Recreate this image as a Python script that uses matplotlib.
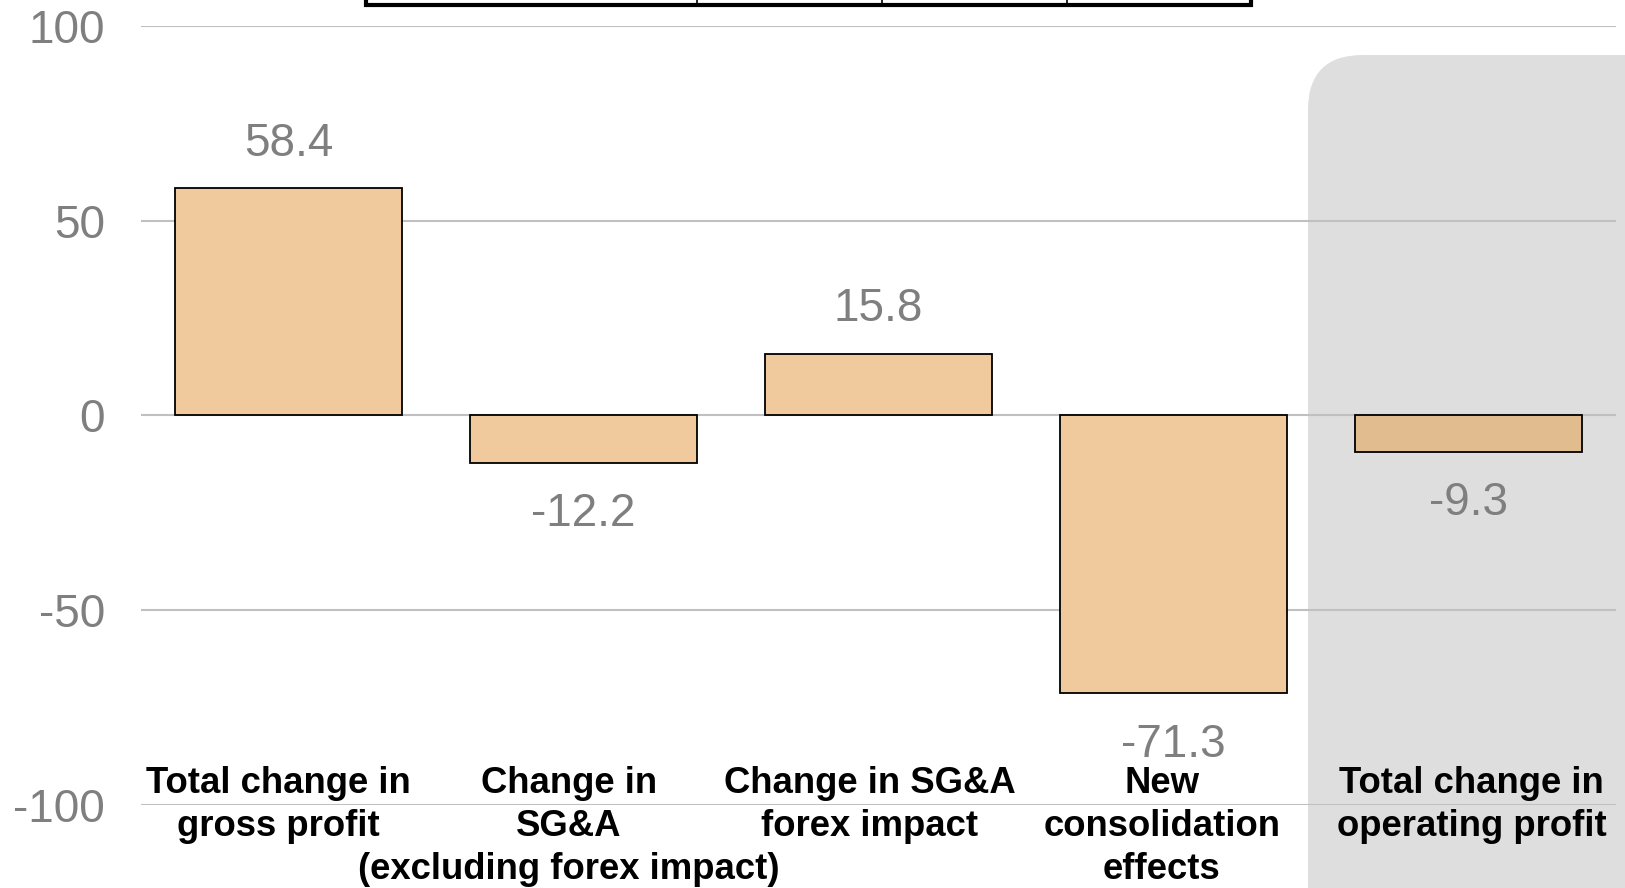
import matplotlib.pyplot as plt
from matplotlib.patches import FancyBboxPatch, Rectangle
from matplotlib.lines import Line2D

categories = [
    "Total change in\ngross profit",
    "Change in\nSG&A\n(excluding forex impact)",
    "Change in SG&A\nforex impact",
    "New\nconsolidation\neffects",
    "Total change in\noperating profit",
]
values = [58.4, -12.2, 15.8, -71.3, -9.3]
value_labels = ["58.4", "-12.2", "15.8", "-71.3", "-9.3"]
yticks = [-100, -50, 0, 50, 100]

bar_color = "#F0CA9C"
total_color = "#E0BC8F"
panel_color = "#DEDEDE"
grid_color = "#C0C0C0"
label_gray = "#7F7F7F"

plt.rcParams["font.family"] = ["Liberation Sans", "DejaVu Sans"]

fig = plt.figure(figsize=(16.25, 8.88), dpi=100)
ax = fig.add_axes([0.0868, 0.0935, 0.9077, 0.8773])
ax.patch.set_visible(False)

# shaded panel behind the total column (inches, so the corner stays round)
panel = FancyBboxPatch((13.08, -1.0), 4.0, 9.33,
                       boxstyle="round,pad=0,rounding_size=0.55",
                       transform=fig.dpi_scale_trans,
                       facecolor=panel_color, edgecolor="none", zorder=-5)
fig.add_artist(panel)

# bottom edge of the table that sits above the chart
tbl = Rectangle((366 / 1625, 1 - 5 / 888), (1251 - 366) / 1625, 0.05,
                transform=fig.transFigure, facecolor="white",
                edgecolor="black", linewidth=3, clip_on=False)
fig.add_artist(tbl)
for xd in [697, 882, 1067]:
    fig.add_artist(Line2D([xd / 1625, xd / 1625], [1 - 5 / 888, 1.0],
                          transform=fig.transFigure, color="black", lw=1.2))

x = list(range(len(values)))
colors = [bar_color] * (len(values) - 1) + [total_color]
bars = ax.bar(x, values, width=0.77, color=colors, edgecolor="black",
              linewidth=1.3, zorder=3)

for b, v, txt in zip(bars, values, value_labels):
    off = 32 if v >= 0 else -37
    ax.annotate(txt, (b.get_x() + b.get_width() / 2, v),
                xytext=(0, off), textcoords="offset points",
                ha="center", va="center", fontsize=33, color=label_gray,
                zorder=4)

ax.set_xlim(-0.5, 4.5)
ax.set_ylim(-100, 100)
ax.set_yticks(yticks)
ax.set_yticklabels([str(t) for t in yticks])
ax.tick_params(axis="y", length=0, pad=26, labelsize=33, labelcolor=label_gray)
ax.set_xticks([])
ax.yaxis.grid(True, color=grid_color, linewidth=1.5, zorder=0)
ax.set_axisbelow(True)
for s in ax.spines.values():
    s.set_visible(False)

# category names, one line at a time, hanging around the -100 gridline
label_x = [-0.035, -0.05, -0.03, -0.04, 0.01]
for i, (cat, dx) in enumerate(zip(categories, label_x)):
    kw = {}
    if i == len(categories) - 1:
        kw["bbox"] = dict(facecolor=panel_color, edgecolor="none", pad=1)
    for k, line in enumerate(cat.split("\n")):
        ax.annotate(line, (i + dx, -100), xytext=(0, 8.5 - 31.0 * k),
                    textcoords="offset points", ha="center", va="baseline",
                    fontsize=26.3, fontweight="bold", color="black",
                    zorder=5, annotation_clip=False, **kw)

fig.savefig("out.png", dpi=100)
